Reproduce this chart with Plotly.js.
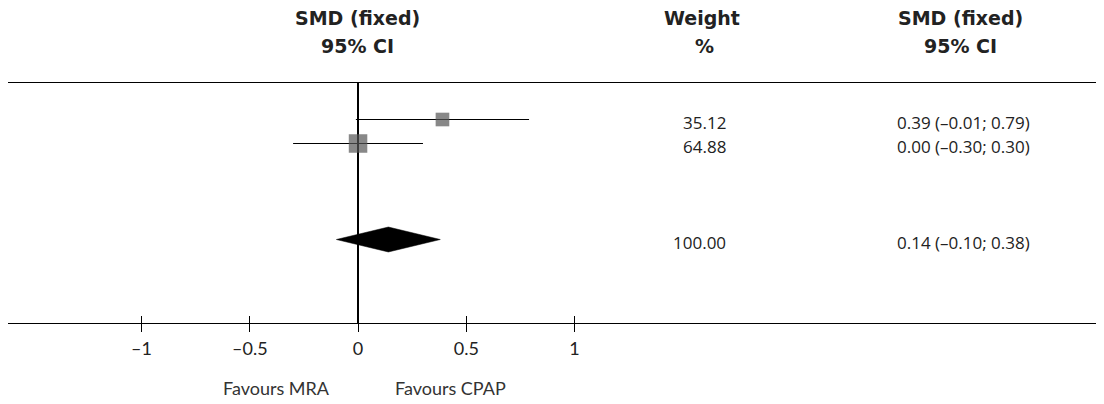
<!DOCTYPE html>
<html>
<head>
<meta charset="utf-8">
<script src="https://cdn.plot.ly/plotly-3.0.1.min.js"></script>
<style>
  html, body { margin: 0; padding: 0; background: #fff; }
  #chart { width: 1104px; height: 404px; }
</style>
</head>
<body>
<div id="chart"></div>
<script>
// Study rows (fixed-effect standardised mean difference)
const studyRows = [8.5, 7.5];
const studySmd = [0.39, 0.00];
const studyLower = [-0.01, -0.30];
const studyUpper = [0.79, 0.30];
const studyWeight = [35.12, 64.88];

// Pooled estimate
const pooledRow = 3.5;
const pooledSmd = 0.14;
const pooledLower = -0.10;
const pooledUpper = 0.38;
const pooledWeight = 100.00;

// Axis ticks
const tickValues = [-1, -0.5, 0, 0.5, 1];
const tickLabels = ['–1', '–0.5', '0', '0.5', '1'];

const headFont = { family: '"DejaVu Sans", Lato, sans-serif', size: 19, color: '#222', weight: 'bold' };
const valueFont = { family: '"Open Sans", Lato, sans-serif', size: 17, color: '#222' };
const tickFont = { family: 'Lato, "Open Sans", sans-serif', size: 18, color: '#222' };
const noteFont = { family: 'Lato, "Open Sans", sans-serif', size: 18, color: '#333' };

const fmt = v => (v < 0 ? '–' : '') + Math.abs(v).toFixed(2);
const ciText = (e, l, u) => fmt(e) + ' (' + fmt(l) + '; ' + fmt(u) + ')';

const traces = [
  {
    type: 'scatter', mode: 'markers', x: studySmd, y: studyRows,
    marker: { symbol: 'square', color: '#555555', size: studyWeight.map(w => 2.3 * Math.sqrt(w)), line: { width: 0 } },
    error_x: {
      type: 'data', symmetric: false,
      array: studySmd.map((e, i) => studyUpper[i] - e),
      arrayminus: studySmd.map((e, i) => e - studyLower[i]),
      color: '#000', thickness: 1, width: 0
    },
    hoverinfo: 'skip', showlegend: false
  },
  {
    type: 'scatter', mode: 'lines', fill: 'toself', fillcolor: '#000',
    x: [pooledLower, pooledSmd, pooledUpper, pooledSmd, pooledLower],
    y: [pooledRow, pooledRow + 0.52, pooledRow, pooledRow - 0.52, pooledRow],
    line: { color: '#000', width: 0.5 },
    hoverinfo: 'skip', showlegend: false
  },
  // empty trace on the overlay axis carrying the upward tick marks
  { type: 'scatter', x: [], y: [], xaxis: 'x2', yaxis: 'y', showlegend: false, hoverinfo: 'skip' }
];

const annotations = [];
const head = (text, x, y) => annotations.push({ text, x, y, xref: 'paper', yref: 'paper', xanchor: 'center', yanchor: 'middle', showarrow: false, font: headFont });
head('SMD (fixed)', 0.3208, 1.271);
head('95% CI', 0.3208, 1.154);
head('Weight', 0.638, 1.271);
head('%', 0.640, 1.154);
head('SMD (fixed)', 0.875, 1.271);
head('95% CI', 0.875, 1.154);

const rowText = (w, e, l, u, y) => {
  annotations.push({ text: w.toFixed(2), x: 0.6618, y, xref: 'paper', yref: 'y', xanchor: 'right', yanchor: 'middle', yshift: -3, showarrow: false, font: valueFont });
  annotations.push({ text: ciText(e, l, u), x: 0.8153, y, xref: 'paper', yref: 'y', xanchor: 'left', yanchor: 'middle', yshift: -3, showarrow: false, font: valueFont });
};
studyRows.forEach((y, i) => rowText(studyWeight[i], studySmd[i], studyLower[i], studyUpper[i], y));
rowText(pooledWeight, pooledSmd, pooledLower, pooledUpper, pooledRow);

annotations.push({ text: 'Favours MRA', x: -0.12, y: -0.271, xref: 'x', yref: 'paper', xanchor: 'right', yanchor: 'middle', showarrow: false, font: noteFont });
annotations.push({ text: 'Favours CPAP', x: 0.162, y: -0.271, xref: 'x', yref: 'paper', xanchor: 'left', yanchor: 'middle', showarrow: false, font: noteFont });

const xRange = [-1.617, 3.409];

const layout = {
  width: 1104, height: 404,
  margin: { l: 8, r: 8, t: 83, b: 81 },
  paper_bgcolor: '#fff', plot_bgcolor: '#fff',
  xaxis: {
    range: xRange, fixedrange: true,
    showgrid: false, zeroline: true, zerolinecolor: '#000', zerolinewidth: 1.2,
    showline: true, linecolor: '#000', linewidth: 1.2, mirror: true,
    ticks: 'outside', ticklen: 8, tickwidth: 1, tickcolor: '#000',
    tickvals: tickValues, ticktext: tickLabels, tickfont: tickFont,
    ticklabelstandoff: 1
  },
  xaxis2: {
    overlaying: 'x', matches: 'x', range: xRange, anchor: 'y', side: 'bottom',
    showgrid: false, zeroline: false, showline: false,
    ticks: 'inside', ticklen: 7, tickwidth: 1, tickcolor: '#000',
    tickvals: tickValues, showticklabels: false
  },
  yaxis: { range: [0.0208, 10.0208], visible: false, fixedrange: true },
  annotations,
  showlegend: false
};

Plotly.newPlot('chart', traces, layout, { displayModeBar: false, staticPlot: true });
</script>
</body>
</html>
